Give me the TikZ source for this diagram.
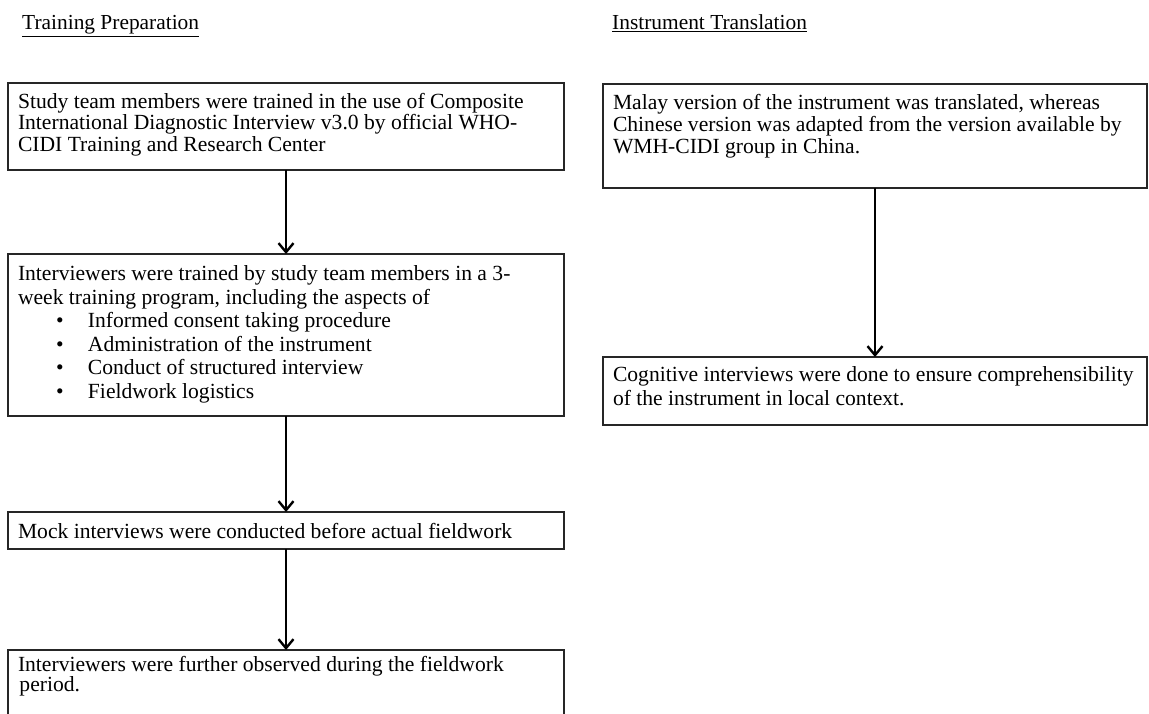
\documentclass[tikz,border=0pt]{standalone}
\usepackage{fontspec}
\setmainfont{Liberation Serif}
\usetikzlibrary{arrows.meta}
% #1 width, #2 height, #3 baselineskip, #4 top pad, #5 text
\newcommand{\bxt}[5]{\parbox[c][#2][t]{#1}{\fontsize{21.6}{#3}\selectfont\parindent=0pt\leftskip=10pt\rightskip=0pt plus 1fil\vspace*{#4}#5}}
\newcommand{\itm}[1]{\hspace*{38pt}\makebox[32pt][l]{•}#1}
\tikzset{
  bx/.style={draw=black!85, line width=1.3pt, anchor=north west, inner sep=0pt, outer sep=0pt},
  arr/.style={draw=black, line width=1.8pt, -{Straight Barb[length=9pt,width=15pt,line width=2.4pt]}},
  ttl/.style={anchor=base west, inner sep=0pt, font=\fontsize{21.4}{24}\selectfont}
}
\begin{document}
\begin{tikzpicture}[x=1pt,y=1pt]
\useasboundingbox (0,0) rectangle (1149,-714);
\fill[white] (0,0) rectangle (1149,-714);
\node[ttl] (t1) at (22,-30) {\underline{Training Preparation}};
\node[ttl] (t2) at (612,-30) {\underline{Instrument Translation}};
\node[bx] (b1) at (8,-83) {\bxt{556pt}{87pt}{21.6pt}{10pt}{Study team members were trained in the use of Composite\\International Diagnostic Interview v3.0 by official WHO-\\CIDI Training and Research Center}};
\node[bx] (b2) at (8,-254) {\bxt{556pt}{162pt}{23.5pt}{12pt}{Interviewers were trained by study team members in a 3-\\week training program, including the aspects of\\\itm{Informed consent taking procedure}\\\itm{Administration of the instrument}\\\itm{Conduct of structured interview}\\\itm{Fieldwork logistics}}};
\node[bx] (b3) at (8,-512) {\bxt{556pt}{37pt}{21.6pt}{11pt}{Mock interviews were conducted before actual fieldwork}};
\node[bx] (b4) at (8,-650) {\bxt{556pt}{100pt}{14pt}{6pt}{Interviewers were further observed during the fieldwork\\\hspace*{1.5pt}period.}};
\node[bx] (r1) at (603,-84) {\bxt{544pt}{104pt}{22pt}{10pt}{Malay version of the instrument was translated, whereas\\Chinese version was adapted from the version available by\\WMH-CIDI group in China.}};
\node[bx] (r2) at (603,-357) {\bxt{544pt}{68pt}{24pt}{10pt}{Cognitive interviews were done to ensure comprehensibility\\of the instrument in local context.}};
\draw[arr] (b1.south) -- (b2.north);
\draw[arr] (b2.south) -- (b3.north);
\draw[arr] (b3.south) -- (b4.north);
\draw[arr] (r1.south) -- (r2.north);
\end{tikzpicture}
\end{document}
